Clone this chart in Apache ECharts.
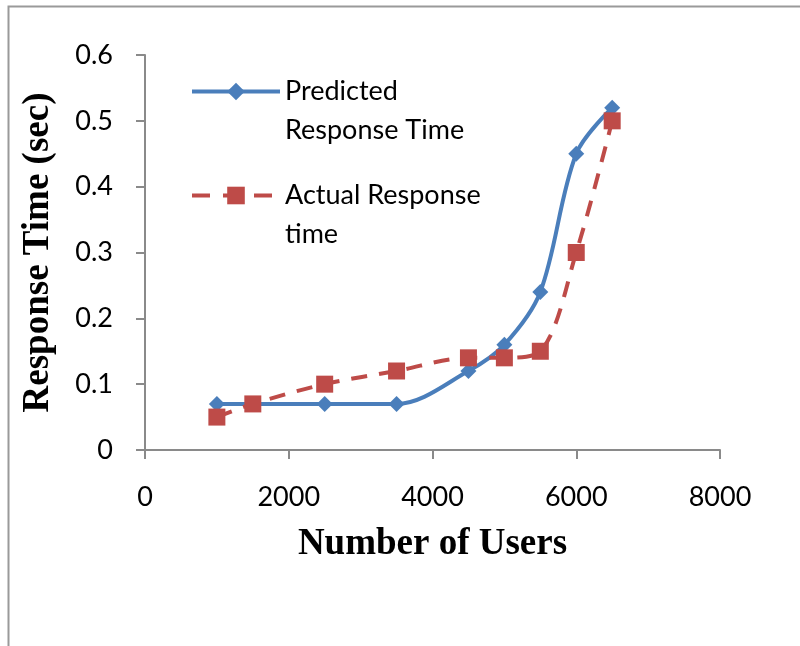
<!DOCTYPE html>
<html>
<head>
<meta charset="utf-8">
<script src="https://cdn.jsdelivr.net/npm/echarts@6/dist/echarts.min.js"></script>
<style>
  html, body { margin: 0; padding: 0; background: #ffffff; }
  #chart { width: 800px; height: 646px; }
</style>
</head>
<body>
<div id="chart"></div>
<script>
// Number of concurrent users vs. response time (seconds)
const predictedUsers = [1000, 2500, 3500, 4500, 5000, 5500, 6000, 6500];
const predictedTimes = [0.07, 0.07, 0.07, 0.12, 0.16, 0.24, 0.45, 0.52];

const actualUsers = [1000, 1500, 2500, 3500, 4500, 5000, 5500, 6000, 6500];
const actualTimes = [0.05, 0.07, 0.10, 0.12, 0.14, 0.14, 0.15, 0.30, 0.50];

const seriesNames = ['Predicted Response Time', 'Actual Response time'];
const legendLines = {
  'Predicted Response Time': ['Predicted', 'Response Time'],
  'Actual Response time': ['Actual Response', 'time']
};

const xTicks = { min: 0, max: 8000, interval: 2000 };
const yTicks = { min: 0, max: 0.6, interval: 0.1 };

const zip = (xs, ys) => xs.map((x, i) => [x, ys[i]]);

const BLUE = '#4A7EBB';
const RED = '#BE4B48';
const AXIS = '#8a8a8a';
const tickFont = 'Lato, "Open Sans", sans-serif';
const titleFont = '"Liberation Serif", "DejaVu Serif", serif';

const legendBase = (name, top, dash) => ({
  data: [name],
  orient: 'vertical',
  left: 190,
  top: top,
  padding: 0,
  itemWidth: 88,
  itemHeight: 22,
  selectedMode: false,
  lineStyle: { width: 4, type: dash },
  // blank first line keeps the icon beside the first line of text
  formatter: n => '\n' + legendLines[n].join('\n'),
  textStyle: {
    fontFamily: tickFont,
    fontSize: 27,
    lineHeight: 39,
    color: '#000'
  }
});

const chart = echarts.init(document.getElementById('chart'), null, { renderer: 'canvas' });

chart.setOption({
  backgroundColor: '#ffffff',
  animation: false,
  graphic: [{
    type: 'rect',
    shape: { x: 8.5, y: 6.5, width: 900, height: 800 },
    style: { fill: 'none', stroke: '#9a9a9a', lineWidth: 2 },
    silent: true
  }],
  grid: { left: 145, top: 55, right: 80, bottom: 196, containLabel: false },
  legend: [
    legendBase(seriesNames[0], 33, 'solid'),
    legendBase(seriesNames[1], 137, [18, 13])
  ],
  xAxis: {
    type: 'value',
    min: xTicks.min, max: xTicks.max, interval: xTicks.interval,
    name: 'Number of Users',
    nameLocation: 'middle',
    nameGap: 76,
    nameTextStyle: { fontFamily: titleFont, fontWeight: 'bold', fontSize: 37, color: '#000' },
    axisLine: { show: true, lineStyle: { color: AXIS, width: 2 } },
    axisTick: { show: true, inside: false, length: 9, lineStyle: { color: AXIS, width: 2 } },
    axisLabel: {
      margin: 34, fontFamily: tickFont, fontSize: 27, color: '#000',
      formatter: v => String(v)
    },
    splitLine: { show: false }
  },
  yAxis: {
    type: 'value',
    min: yTicks.min, max: yTicks.max, interval: yTicks.interval,
    name: 'Response Time (sec)',
    nameLocation: 'middle',
    nameGap: 88,
    nameRotate: 90,
    nameTextStyle: { fontFamily: titleFont, fontWeight: 'bold', fontSize: 37, color: '#000' },
    axisLine: { show: true, lineStyle: { color: AXIS, width: 2 } },
    axisTick: { show: true, inside: false, length: 9, lineStyle: { color: AXIS, width: 2 } },
    axisLabel: { margin: 32, fontFamily: tickFont, fontSize: 27, color: '#000' },
    splitLine: { show: false }
  },
  series: [
    {
      name: seriesNames[0],
      type: 'line',
      data: zip(predictedUsers, predictedTimes),
      smooth: 0.33,
      symbol: 'diamond',
      symbolSize: 16,
      color: BLUE,
      lineStyle: { color: BLUE, width: 4 },
      itemStyle: { color: BLUE },
      z: 3
    },
    {
      name: seriesNames[1],
      type: 'line',
      data: zip(actualUsers, actualTimes),
      smooth: 0.33,
      symbol: 'rect',
      symbolSize: 17,
      color: RED,
      lineStyle: { color: RED, width: 4, type: [16, 12] },
      itemStyle: { color: RED },
      z: 4
    }
  ]
});
</script>
</body>
</html>
